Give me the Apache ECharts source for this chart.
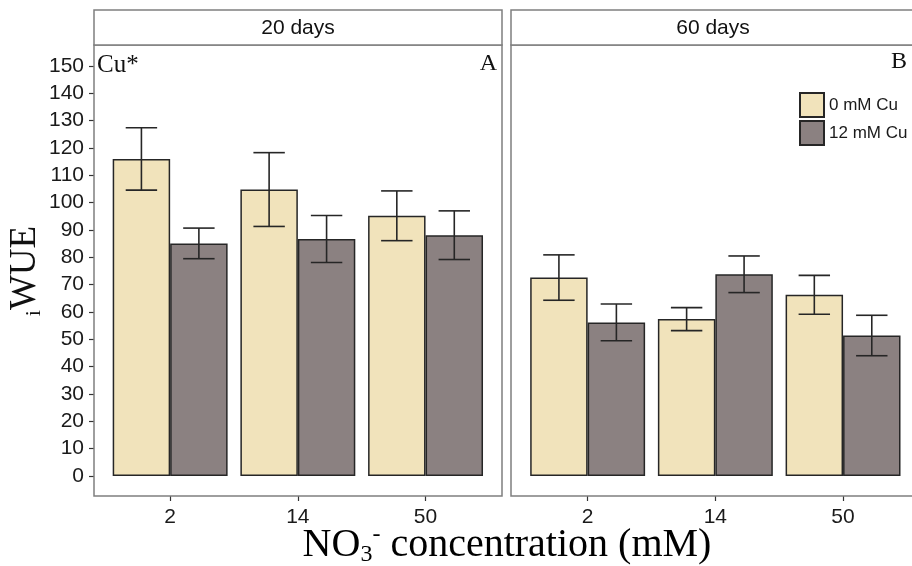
<!DOCTYPE html>
<html>
<head>
<meta charset="utf-8">
<script src="https://cdn.jsdelivr.net/npm/echarts@6/dist/echarts.min.js"></script>
<style>
  html, body { margin: 0; padding: 0; background: #fff; }
</style>
</head>
<body>
<div id="wue" style="width:912px;height:566px;"></div>
<script>
  // categories
  const concentrations = ['2', '14', '50'];
  const panels = ['20 days', '60 days'];
  const yTicks = [0, 150, 10]; // min, max, step

  // means (iWUE)
  const cu0Day20 = [116.0, 104.8, 95.2];
  const cu12Day20 = [85.1, 86.7, 88.1];
  const cu0Day60 = [72.6, 57.4, 66.3];
  const cu12Day60 = [56.2, 73.8, 51.4];

  // error bar half widths
  const cu0Day20Err = [11.4, 13.5, 9.1];
  const cu12Day20Err = [5.6, 8.6, 8.9];
  const cu0Day60Err = [8.3, 4.2, 7.1];
  const cu12Day60Err = [6.7, 6.7, 7.4];

  const beige = '#f1e3bb';
  const grey = '#8b8181';
  const edge = '#262626';
  const frame = '#7f7f7f';

  let myChart = echarts.init(document.getElementById('wue'));

  function errData(means, errs) {
    return means.map((m, i) => [i, m - errs[i], m + errs[i]]);
  }

  function errorBars(shift) {
    return function (params, api) {
      const idx = api.value(0);
      const lo = api.coord([idx, api.value(1)]);
      const hi = api.coord([idx, api.value(2)]);
      const band = api.size([1, 0])[0];
      const x = lo[0] + shift * band;
      const cap = band * 0.123;
      const style = {stroke: edge, lineWidth: 1.6, fill: null};
      return {
        type: 'group',
        children: [
          {type: 'line', shape: {x1: x, y1: lo[1], x2: x, y2: hi[1]}, style: style},
          {type: 'line', shape: {x1: x - cap, y1: hi[1], x2: x + cap, y2: hi[1]}, style: style},
          {type: 'line', shape: {x1: x - cap, y1: lo[1], x2: x + cap, y2: lo[1]}, style: style}
        ]
      };
    };
  }

  function barSeries(name, data, color, gi) {
    return {
      type: 'bar', name: name, data: data,
      xAxisIndex: gi, yAxisIndex: gi,
      barWidth: '45%', barGap: '0%',
      itemStyle: {color: color, borderColor: edge, borderWidth: 1.5}
    };
  }

  function errSeries(data, shift, gi) {
    return {
      type: 'custom', data: data, z: 3,
      xAxisIndex: gi, yAxisIndex: gi,
      encode: {x: 0, y: [1, 2]},
      renderItem: errorBars(shift)
    };
  }

  const panelLeft = [94, 511];
  const panelWidth = 408;

  let graphics = [];
  panelLeft.forEach((px, i) => {
    graphics.push({
      type: 'rect', z: 10,
      shape: {x: px, y: 45, width: panelWidth, height: 451},
      style: {fill: null, stroke: frame, lineWidth: 1.5}
    });
    graphics.push({
      type: 'rect', z: 10,
      shape: {x: px, y: 10, width: panelWidth, height: 35},
      style: {fill: '#fff', stroke: frame, lineWidth: 1.5}
    });
    graphics.push({
      type: 'text', z: 11,
      style: {
        text: panels[i], x: px + panelWidth / 2 - (i === 1 ? 2 : 0), y: 28.5,
        align: 'center', verticalAlign: 'middle',
        font: '21px "Liberation Sans", Arial, sans-serif', fill: '#111'
      }
    });
  });
  graphics.push({
    type: 'text', z: 11,
    style: {text: 'Cu*', x: 97, y: 53, font: '25px "Liberation Serif", "Times New Roman", serif', fill: '#111'}
  });
  graphics.push({
    type: 'text', z: 11,
    style: {text: 'A', x: 497, y: 52, align: 'right', font: '24px "Liberation Serif", "Times New Roman", serif', fill: '#111'}
  });
  graphics.push({
    type: 'text', z: 11,
    style: {text: 'B', x: 907, y: 50, align: 'right', font: '24px "Liberation Serif", "Times New Roman", serif', fill: '#111'}
  });
  graphics.push({
    type: 'text', z: 11,
    style: {
      text: '{n|NO}{s|3}{p|-}{n| concentration (mM)}',
      x: 507, y: 545, align: 'center', verticalAlign: 'middle',
      rich: {
        n: {fontFamily: '"Liberation Serif", "Times New Roman", serif', fontSize: 40, lineHeight: 44, color: '#111'},
        s: {fontFamily: '"Liberation Serif", "Times New Roman", serif', fontSize: 24, lineHeight: 44, verticalAlign: 'bottom', color: '#111'},
        p: {fontFamily: '"Liberation Serif", "Times New Roman", serif', fontSize: 24, lineHeight: 44, verticalAlign: 'top', color: '#111'}
      }
    }
  });

  const labelFont = {fontFamily: '"Liberation Sans", Arial, sans-serif', fontSize: 21, color: '#1a1a1a'};

  function xAxis(gi) {
    return {
      type: 'category', gridIndex: gi, data: concentrations,
      offset: 20,
      axisLine: {show: false, onZero: false},
      axisTick: {show: true, alignWithLabel: true, length: 5, lineStyle: {color: '#333', width: 1.2}},
      axisLabel: Object.assign({margin: 11}, labelFont),
      splitLine: {show: false}
    };
  }

  function yAxis(gi) {
    return {
      type: 'value', gridIndex: gi,
      min: yTicks[0], max: yTicks[1], interval: yTicks[2],
      offset: 12.3,
      axisLine: {show: false, onZero: false},
      axisTick: {show: gi === 0, length: 5, lineStyle: {color: '#333', width: 1.2}},
      axisLabel: Object.assign({show: gi === 0, margin: 10}, labelFont),
      splitLine: {show: false},
      name: gi === 0 ? '{i|i}{w|WUE}' : '',
      nameLocation: 'middle',
      nameRotate: 90,
      nameGap: 44,
      nameTextStyle: {
        rich: {
          w: {fontFamily: '"Liberation Serif", "Times New Roman", serif', fontSize: 37, lineHeight: 40, color: '#111'},
          i: {fontFamily: '"Liberation Serif", "Times New Roman", serif', fontSize: 22, lineHeight: 40, verticalAlign: 'bottom', color: '#111'}
        }
      }
    };
  }

  myChart.setOption({
    animation: false,
    backgroundColor: '#fff',
    grid: [
      {left: 106.3, top: 66, width: 383.1, height: 410},
      {left: 523.8, top: 66, width: 383.1, height: 410}
    ],
    xAxis: [xAxis(0), xAxis(1)],
    yAxis: [yAxis(0), yAxis(1)],
    legend: {
      data: ['0 mM Cu', '12 mM Cu'],
      orient: 'vertical',
      left: 794, top: 87,
      itemWidth: 24, itemHeight: 24, itemGap: 2,
      icon: 'rect',
      textStyle: {fontFamily: '"Liberation Sans", Arial, sans-serif', fontSize: 17, color: '#1a1a1a'}
    },
    graphic: graphics,
    series: [
      barSeries('0 mM Cu', cu0Day20, beige, 0),
      barSeries('12 mM Cu', cu12Day20, grey, 0),
      barSeries('0 mM Cu', cu0Day60, beige, 1),
      barSeries('12 mM Cu', cu12Day60, grey, 1),
      errSeries(errData(cu0Day20, cu0Day20Err), -0.225, 0),
      errSeries(errData(cu12Day20, cu12Day20Err), 0.225, 0),
      errSeries(errData(cu0Day60, cu0Day60Err), -0.225, 1),
      errSeries(errData(cu12Day60, cu12Day60Err), 0.225, 1)
    ]
  });
</script>
</body>
</html>
